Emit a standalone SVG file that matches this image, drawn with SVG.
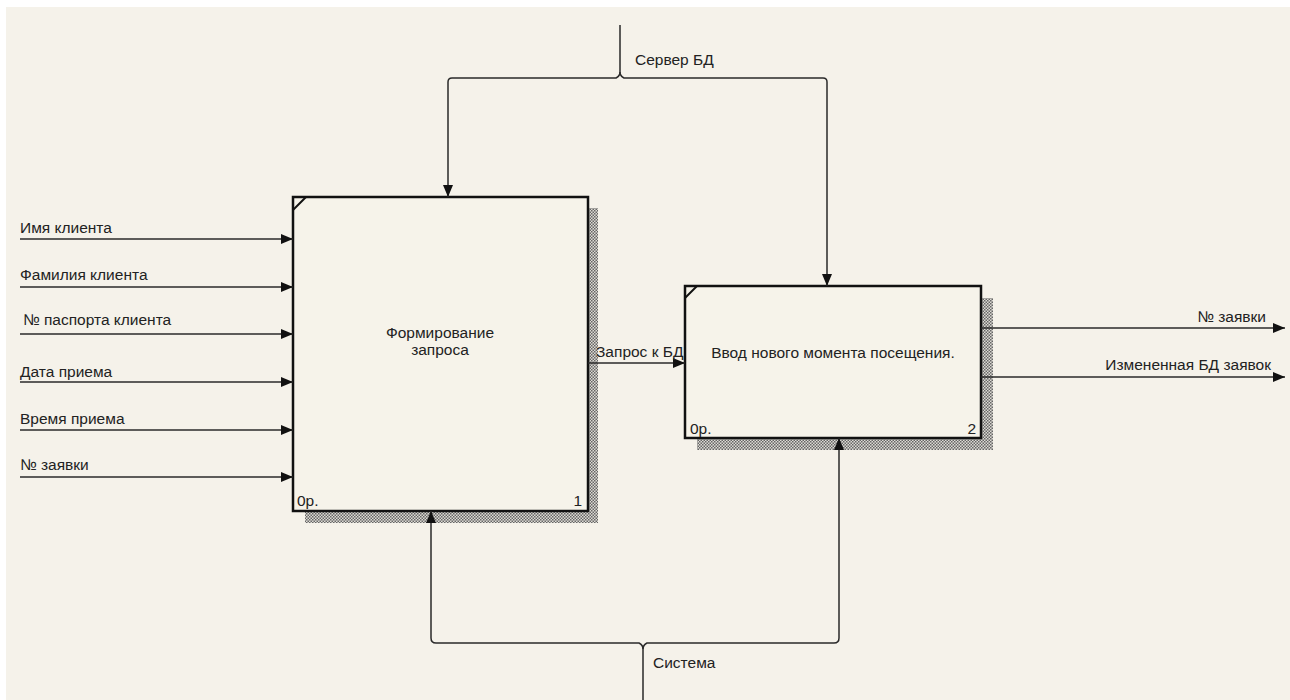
<svg xmlns="http://www.w3.org/2000/svg" width="1290" height="700" viewBox="0 0 1290 700">
<style>
.t{font-family:"Liberation Sans",Arial,sans-serif;font-size:15.5px;fill:#222}
.box{fill:#f6f3ea;stroke:#111;stroke-width:2.5}
.ln{fill:none;stroke:#2a2a2a;stroke-width:1.5}
.sh{fill:url(#chk)}
</style>
<defs>
<pattern id="chk" width="3" height="3" patternUnits="userSpaceOnUse">
<rect width="3" height="3" fill="#dddbd4"/>
<rect width="1.5" height="1.5" fill="#666"/>
<rect x="1.5" y="1.5" width="1.5" height="1.5" fill="#666"/>
</pattern>
<marker id="ar" viewBox="0 0 12 10" refX="12" refY="5" markerWidth="12" markerHeight="10" markerUnits="userSpaceOnUse" orient="auto">
<path d="M0,0 L12,5 L0,10 Z" fill="#111"/>
</marker>
</defs>
<rect width="1290" height="700" fill="#ffffff"/>
<rect x="6" y="7" width="1284" height="693" fill="#f5f2ea"/>

<g id="node1">
<rect class="sh" x="588" y="208" width="10" height="315"/>
<rect class="sh" x="305" y="511" width="293" height="12"/>
<rect class="box" x="293" y="197" width="295" height="314"/>
<line x1="293" y1="210" x2="306" y2="197" stroke="#111" stroke-width="2"/>
<text class="t" x="440" y="338" text-anchor="middle">Формирование</text>
<text class="t" x="440" y="355" text-anchor="middle">запроса</text>
<text class="t" x="297" y="506">0р.</text>
<text class="t" x="582" y="506" text-anchor="end">1</text>
</g>

<g id="node2">
<rect class="sh" x="981" y="298" width="12" height="152"/>
<rect class="sh" x="697" y="438" width="296" height="12"/>
<rect class="box" x="685" y="286" width="296" height="152"/>
<line x1="685" y1="298" x2="697" y2="286" stroke="#111" stroke-width="2"/>
<text class="t" x="833" y="358" text-anchor="middle">Ввод нового момента посещения.</text>
<text class="t" x="690" y="434">0р.</text>
<text class="t" x="976" y="434" text-anchor="end">2</text>
</g>

<g id="connectors">
<line class="ln" x1="20" y1="239" x2="293" y2="239" marker-end="url(#ar)"/>
<line class="ln" x1="20" y1="287" x2="293" y2="287" marker-end="url(#ar)"/>
<line class="ln" x1="20" y1="334" x2="293" y2="334" marker-end="url(#ar)"/>
<line class="ln" x1="20" y1="382" x2="293" y2="382" marker-end="url(#ar)"/>
<line class="ln" x1="20" y1="430" x2="293" y2="430" marker-end="url(#ar)"/>
<line class="ln" x1="20" y1="477" x2="293" y2="477" marker-end="url(#ar)"/>
<text class="t" x="20" y="233">Имя клиента</text>
<text class="t" x="20" y="280">Фамилия клиента</text>
<text class="t" x="23" y="325">№ паспорта клиента</text>
<text class="t" x="20" y="377">Дата приема</text>
<text class="t" x="20" y="424">Время приема</text>
<text class="t" x="20" y="470">№ заявки</text>

<line class="ln" x1="588" y1="363" x2="685" y2="363" marker-end="url(#ar)"/>
<text class="t" x="596" y="357">Запрос к БД</text>

<line class="ln" x1="981" y1="328" x2="1285" y2="328" marker-end="url(#ar)"/>
<line class="ln" x1="981" y1="377" x2="1285" y2="377" marker-end="url(#ar)"/>
<text class="t" x="1266" y="322" text-anchor="end">№ заявки</text>
<text class="t" x="1271" y="370" text-anchor="end">Измененная БД заявок</text>

<path class="ln" d="M620,25 L620,72 Q620,76 616,78 L452,78 Q448,78 448,82 L448,197" marker-end="url(#ar)"/>
<path class="ln" d="M620,72 Q620,76 624,78 L823,78 Q827,78 827,82 L827,286" marker-end="url(#ar)"/>
<text class="t" x="635" y="65">Сервер БД</text>

<path class="ln" d="M643,700 L643,649 Q643,645 639,643 L436,643 Q431,643 431,638 L431,511" marker-end="url(#ar)"/>
<path class="ln" d="M643,649 Q643,645 647,643 L834,643 Q839,643 839,638 L839,438" marker-end="url(#ar)"/>
<text class="t" x="653" y="668">Система</text>
</g>
</svg>
